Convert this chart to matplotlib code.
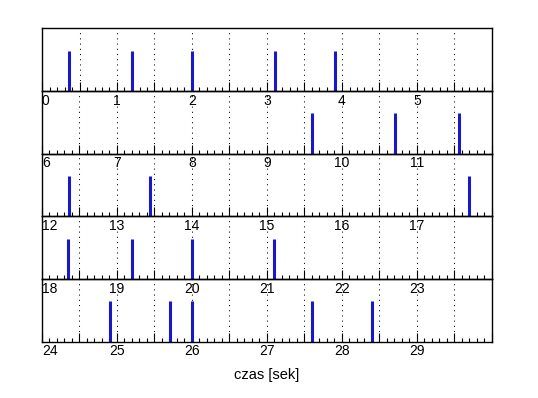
import matplotlib.pyplot as plt
import numpy as np

# Czasy zdarzen (s)
zdarzenia = [0.36, 1.20, 2.00, 3.10, 3.91,
             9.60, 10.71, 11.56,
             12.36, 13.44, 17.70,
             18.35, 19.20, 20.00, 21.09,
             24.91, 25.71, 26.00, 27.60, 28.40]
wysokosc = 1.0      # wysokosc impulsu
okno = 6            # dlugosc jednego wiersza (s)
wiersze = 5

plt.rcParams['font.family'] = ['Liberation Sans', 'DejaVu Sans']

fig = plt.figure(figsize=(5.38, 3.98), dpi=100)
left, right = 42 / 538, 492 / 538
top, bottom = 1 - 28.3 / 398, 1 - 341.7 / 398
h = (top - bottom) / wiersze

t = np.array(zdarzenia)
for k in range(wiersze):
    t0 = k * okno
    ax = fig.add_axes([left, top - (k + 1) * h, right - left, h])
    ax.set_facecolor('none')
    sel = t[(t >= t0) & (t < t0 + okno)]
    ax.vlines(sel, 0, wysokosc, color='#1818c8', linewidth=2.2)
    ax.set_xlim(t0, t0 + okno)
    ax.set_ylim(0, 1.55)
    ax.set_yticks([])
    major = np.arange(t0, t0 + okno + 0.01, 0.5)
    ax.set_xticks(major)
    ax.set_xticklabels([str(int(m)) if m == int(m) and m < t0 + okno else ''
                        for m in major])
    ax.set_xticks(np.arange(t0, t0 + okno + 0.01, 0.1), minor=True)
    ax.tick_params(axis='x', which='major', direction='in', length=6.5,
                   width=0.8, labelsize=10, pad=2, top=False)
    ax.tick_params(axis='x', which='minor', direction='in', length=3.2,
                   width=0.8, top=False)
    ax.get_xticklabels()[0].set_horizontalalignment('left')
    ax.grid(axis='x', which='major', color='black', linestyle=(0, (1, 4)),
            linewidth=0.75)
    for s in ax.spines.values():
        s.set_linewidth(1.0)

fig.text((left + right) / 2, 1 - 375 / 398, 'czas [sek]', ha='center',
         va='center', fontsize=10.5)

fig.savefig('out.png', dpi=100)
